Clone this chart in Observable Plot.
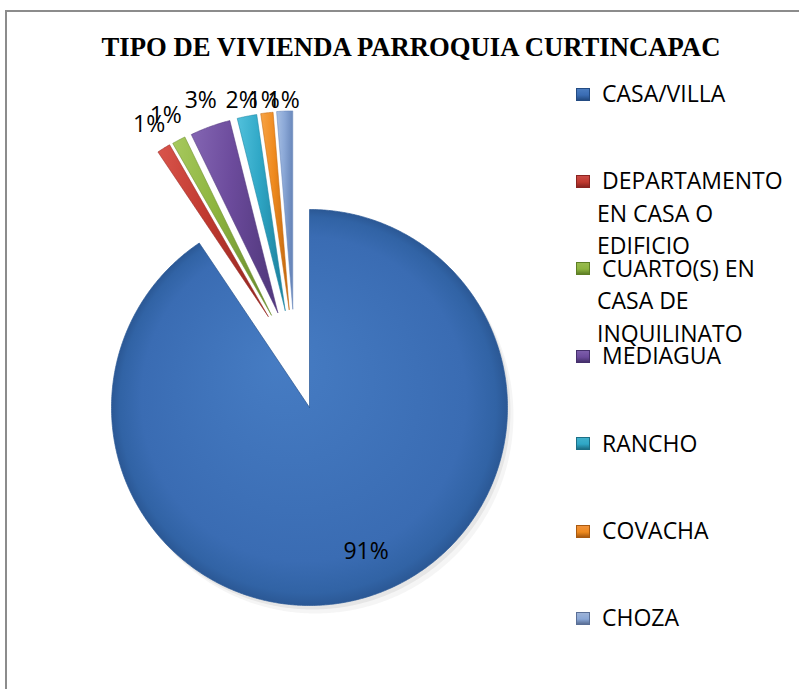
<!DOCTYPE html>
<html>
<head>
<meta charset="utf-8">
<script src="https://cdn.jsdelivr.net/npm/d3@7"></script>
<script src="https://cdn.jsdelivr.net/npm/@observablehq/plot@0.6"></script>
<style>
  html, body { margin: 0; padding: 0; background: #fff; }
  #wrap { position: relative; width: 799px; height: 689px; overflow: hidden; background: #fff; }
  #chart { position: absolute; left: 0; top: 0; }
  #frame { position: absolute; left: 5px; top: 10px; width: 900px; height: 900px; border: 2px solid #8c8c8c; pointer-events: none; }
  #title { position: absolute; left: 0; top: 32px; width: 822px; text-align: center;
           font: bold 26.7px "Liberation Serif", "Times New Roman", serif; line-height: 30px; color: #000; }
  .leg { position: absolute; left: 597px; width: 196px; font-family: "Open Sans", sans-serif; font-size: 23px;
         line-height: 32.5px; text-indent: 5px; color: #000; white-space: normal; }
  .sw { position: absolute; left: 576px; width: 14px; height: 13px; box-sizing: border-box; }
</style>
</head>
<body>
<div id="wrap">
  <div id="chart"></div>
  <div id="frame"></div>
  <div id="title"></div>
  <div id="legend"></div>
</div>
<script>
// ---- data ----
const chartTitle = "TIPO DE VIVIENDA PARROQUIA CURTINCAPAC";
const categories = [
  "CASA/VILLA",
  "DEPARTAMENTO EN CASA O EDIFICIO",
  "CUARTO(S) EN CASA DE INQUILINATO",
  "MEDIAGUA",
  "RANCHO",
  "COVACHA",
  "CHOZA"
];
const values = [90.6, 1.1, 1.1, 3.3, 1.6, 1.0, 1.3];
const exploded = [false, true, true, true, true, true, true];

// ---- styles ----
const baseColors  = ["#3a6cb3", "#c0392f", "#8db43f", "#6c4b9c", "#2fa7c6", "#ef8a1e", "#8aa7d6"];
const lightColors = ["#467cc3", "#d9554c", "#a7c95e", "#8466b3", "#52c1dc", "#f7a447", "#a8c0e4"];
const darkColors  = ["#2b5895", "#992a24", "#6e9030", "#543a80", "#1f86a3", "#c76c12", "#6987ba"];
const swatchTop   = ["#4a7cc0", "#c94a45", "#98bb4e", "#7d5eab", "#3fb0cb", "#f0913a", "#9db3d8"];
const swatchBot   = ["#234b82", "#8a2420", "#5e7f25", "#45306c", "#1c6f86", "#a95a10", "#5a6f96"];

const W = 799, H = 689;
const R = 198;            // pie radius in px
const CX = 309, CY = 407; // pie centre in px
const explodeDist = 0.505; // in radius units
const labelRadius = 1.14;  // outside-end labels for exploded slices
const labelTopPx = 100;    // labels are kept inside the plot area
const mainLabelRadius = 0.78;

// ---- pie geometry ----
const total = d3.sum(values);
let acc = 0;
const slices = values.map((v, i) => {
  const a0 = acc / total * 2 * Math.PI; acc += v;
  const a1 = acc / total * 2 * Math.PI;
  return {i, cat: categories[i], v, a0, a1, mid: (a0 + a1) / 2, exploded: exploded[i]};
});
const ex = slices.filter(s => s.exploded);
const groupMid = (d3.min(ex, s => s.a0) + d3.max(ex, s => s.a1)) / 2;
const labelMaxY = (CY - labelTopPx) / R;
for (const s of slices) {
  if (s.exploded) {
    const dir = (s.mid + groupMid) / 2;
    s.ox = explodeDist * Math.sin(dir);
    s.oy = explodeDist * Math.cos(dir);
    s.lx = s.ox + labelRadius * Math.sin(s.mid);
    s.ly = Math.min(labelMaxY, s.oy + labelRadius * Math.cos(s.mid));
  } else {
    s.ox = 0; s.oy = 0;
    s.lx = mainLabelRadius * Math.sin(s.mid - 0.08);
    s.ly = mainLabelRadius * Math.cos(s.mid - 0.08);
  }
  const step = Math.PI / 360;
  const n = Math.max(2, Math.ceil((s.a1 - s.a0) / step));
  const pts = [{x: s.ox, y: s.oy}];
  for (let k = 0; k <= n; k++) {
    const a = s.a0 + (s.a1 - s.a0) * k / n;
    pts.push({x: s.ox + Math.sin(a), y: s.oy + Math.cos(a)});
  }
  pts.push({x: s.ox, y: s.oy});
  s.pts = pts;
}

// ---- gradients (defs) ----
function defsMark() {
  const defs = d3.create("svg:defs");
  slices.forEach((s, i) => {
    if (i === 0) {
      const g = defs.append("radialGradient").attr("id", "g0")
        .attr("cx", 0.5).attr("cy", 0.5).attr("r", 0.5).attr("fx", 0.42).attr("fy", 0.38);
      g.append("stop").attr("offset", 0).attr("stop-color", lightColors[0]);
      g.append("stop").attr("offset", 0.82).attr("stop-color", baseColors[0]);
      g.append("stop").attr("offset", 0.95).attr("stop-color", "#3163a5");
      g.append("stop").attr("offset", 1).attr("stop-color", darkColors[0]);
    } else {
      const g = defs.append("linearGradient").attr("id", "g" + i)
        .attr("x1", 0).attr("y1", 0).attr("x2", 1).attr("y2", 0.2);
      g.append("stop").attr("offset", 0).attr("stop-color", lightColors[i]);
      g.append("stop").attr("offset", 0.5).attr("stop-color", baseColors[i]);
      g.append("stop").attr("offset", 1).attr("stop-color", darkColors[i]);
    }
  });
  return defs.node();
}

const main = slices[0];
const marks = [
  defsMark,
  Plot.line(main.pts, {x: "x", y: "y", fill: "#000", fillOpacity: 0.04, stroke: "none", dx: 6, dy: 8, curve: "linear"}),
  Plot.line(main.pts, {x: "x", y: "y", fill: "#000", fillOpacity: 0.06, stroke: "none", dx: 3, dy: 4, curve: "linear"}),
  ...slices.map((s, i) => Plot.line(s.pts, {
    x: "x", y: "y", fill: `url(#g${i})`, stroke: darkColors[i], strokeWidth: i === 0 ? 1 : 0.8,
    strokeOpacity: 0.7, curve: "linear"
  })),
  Plot.text(slices, {
    x: "lx", y: "ly", text: d => Math.round(d.v) + "%",
    fontSize: 23, fontFamily: "Open Sans, sans-serif", fill: "#000"
  })
];

const plot = Plot.plot({
  width: W, height: H, margin: 0,
  style: {background: "transparent", overflow: "visible"},
  x: {domain: [-CX / R, (W - CX) / R], range: [0, W], axis: null},
  y: {domain: [CY / R, (CY - H) / R], range: [0, H], axis: null},
  marks
});
document.getElementById("chart").appendChild(plot);

// ---- title ----
document.getElementById("title").textContent = chartTitle;

// ---- legend ----
const legendTop0 = 94, legendStep = 87.4;
const leg = document.getElementById("legend");
categories.forEach((c, i) => {
  const cy = legendTop0 + i * legendStep;
  const sw = document.createElement("div");
  sw.className = "sw";
  sw.style.top = (cy - 6.5) + "px";
  sw.style.background = `linear-gradient(${swatchTop[i]}, ${baseColors[i]} 55%, ${swatchBot[i]})`;
  sw.style.border = `1px solid ${swatchBot[i]}`;
  leg.appendChild(sw);
  const t = document.createElement("div");
  t.className = "leg";
  t.style.top = (cy - 17) + "px";
  t.textContent = c;
  leg.appendChild(t);
});
</script>
</body>
</html>
